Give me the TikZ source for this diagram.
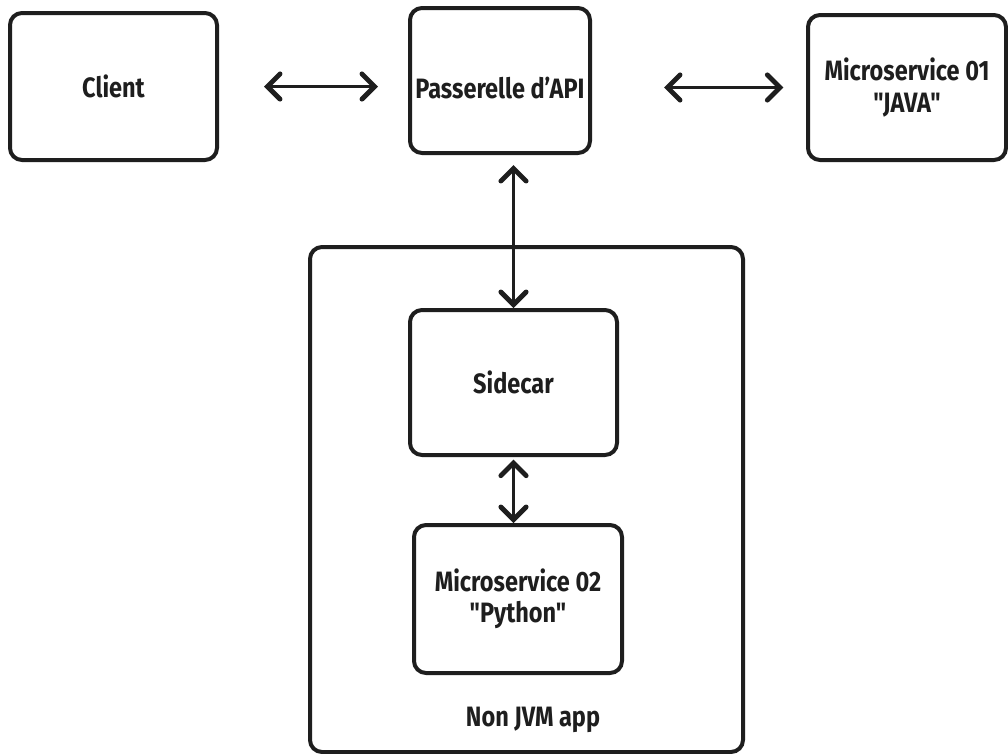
\documentclass[tikz,border=0pt]{standalone}
\usepackage{fontspec}
\setmainfont[FakeStretch=0.84,Ligatures=TeXOff]{Fira Sans}
\usetikzlibrary{arrows.meta}
\definecolor{ink}{HTML}{1E1E1E}
\newcommand{\dq}{\char34\relax}
\begin{document}
\begin{tikzpicture}[x=0.75pt,y=-0.75pt,
  box/.style={draw=ink, line width=3pt, rounded corners=9pt, text=ink,
    align=center, inner xsep=2pt, font=\bfseries\fontsize{21}{23.5}\selectfont},
  txt/.style={text=ink, font=\bfseries\fontsize{21}{23.5}\selectfont},
  link/.style={draw=ink, line width=2.4pt, line cap=round,
    {Straight Barb[length=9.5pt,width=19pt,line width=3.6pt,line cap=round]}-{Straight Barb[length=9.5pt,width=19pt,line width=3.6pt,line cap=round]}}]

  % canvas
  \useasboundingbox[fill=white] (0,0) rectangle (1008,754);

  % container for the non-JVM application
  \node[box, minimum width=324.75pt, minimum height=378.75pt] (app) at (526.5,499.5) {};
  \node[txt] (applabel) at (533,720) {Non JVM app};

  % services
  \node[box, minimum width=155.25pt, minimum height=110.25pt] (client) at (113.5,86.5) {Client};
  \node[box, minimum width=135pt, minimum height=108.75pt] (api) at (500,80.5) {\raisebox{-5.5pt}[\height][\depth]{Passerelle d’API}};
  \node[box, minimum width=148.5pt, minimum height=108.75pt] (ms1) at (907,87.5) {Microservice 01\\\dq JAVA\dq};
  \node[box, minimum width=155.25pt, minimum height=108.75pt] (sidecar) at (513.5,382.5) {Sidecar};
  \node[box, minimum width=156pt, minimum height=111pt] (ms2) at (518,599) {Microservice 02\\\dq Python\dq};

  % connections
  \draw[link, shorten <=33.75pt, shorten >=22.5pt] (client.east) -- (client.east -| api.west);
  \draw[link, shorten <=54pt, shorten >=17pt] (ms1.west -| api.east) -- (ms1.west);
  \draw[link, shorten >=7.5pt] (sidecar.north) -- (sidecar.north |- api.south);
  \draw[link, shorten <=2pt] (sidecar.south) -- (sidecar.south |- ms2.north);
\end{tikzpicture}
\end{document}
